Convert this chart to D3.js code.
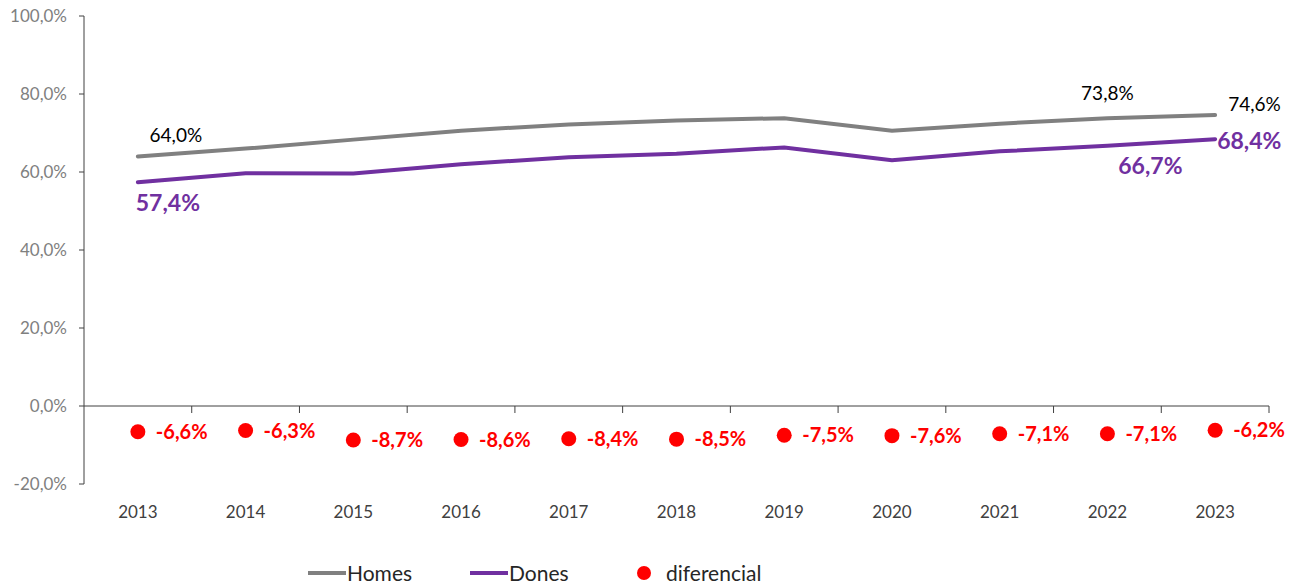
<!DOCTYPE html>
<html lang="ca">
<head>
<meta charset="UTF-8">
<title>Homes / Dones</title>
<script src="https://cdn.jsdelivr.net/npm/d3@7"></script>
<style>
    body { margin: 0; background: #fff; }
    text { font-family: Lato, "Open Sans", sans-serif; }
    .ytick text { fill: #808080; font-size: 17px; }
    .xtick text { fill: #404040; font-size: 17px; }
</style>
</head>
<body>
<script>
    // dades
    const years = ['2013', '2014', '2015', '2016', '2017', '2018', '2019', '2020', '2021', '2022', '2023'];
    const homes = [64.0, 66.0, 68.3, 70.6, 72.2, 73.2, 73.8, 70.6, 72.4, 73.8, 74.6];
    const dones = [57.4, 59.7, 59.6, 62.0, 63.8, 64.7, 66.3, 63.0, 65.3, 66.7, 68.4];
    const diferencial = [-6.6, -6.3, -8.7, -8.6, -8.4, -8.5, -7.5, -7.6, -7.1, -7.1, -6.2];
    const yTicks = [-20, 0, 20, 40, 60, 80, 100];

    const width = 1296, height = 585;
    const fmt = v => v.toFixed(1).replace('.', ',') + '%';

    const svg = d3.select('body').append('svg').attr('width', width).attr('height', height);

    const x = d3.scaleBand().domain(years).range([84, 1269]);
    const y = d3.scaleLinear().domain([-20, 100]).range([484, 16]);
    const cx = d => x(d) + x.bandwidth() / 2;

    // eix Y
    svg.append('line').attr('x1', 84).attr('x2', 84).attr('y1', y(100)).attr('y2', y(-20))
        .attr('stroke', '#404040').attr('stroke-width', 1);
    const yt = svg.selectAll('g.ytick').data(yTicks).enter().append('g').attr('class', 'ytick');
    yt.append('line').attr('x1', 79).attr('x2', 84).attr('y1', d => y(d)).attr('y2', d => y(d))
        .attr('stroke', '#404040');
    yt.append('text').attr('x', 67).attr('y', d => y(d) + 6).attr('text-anchor', 'end').text(d => fmt(d));

    // eix X sobre el 0
    svg.append('line').attr('x1', 84).attr('x2', 1269).attr('y1', y(0)).attr('y2', y(0))
        .attr('stroke', '#404040');
    const bounds = years.map(d => x(d) + x.bandwidth());
    svg.selectAll('line.xt').data(bounds).enter().append('line').attr('class', 'xt')
        .attr('x1', d => d).attr('x2', d => d).attr('y1', y(0)).attr('y2', y(0) + 7)
        .attr('stroke', '#404040');
    svg.selectAll('g.xtick').data(years).enter().append('g').attr('class', 'xtick')
        .append('text').attr('x', d => cx(d)).attr('y', 518).attr('text-anchor', 'middle').text(d => d);

    // línies
    const line = d3.line().x((d, i) => cx(years[i])).y(d => y(d));
    svg.append('path').datum(homes).attr('d', line).attr('fill', 'none')
        .attr('stroke', '#808080').attr('stroke-width', 4).attr('stroke-linecap', 'round');
    svg.append('path').datum(dones).attr('d', line).attr('fill', 'none')
        .attr('stroke', '#7030A0').attr('stroke-width', 4).attr('stroke-linecap', 'round');

    // etiquetes homes (2013, 2022, 2023)
    const hLab = [[0, 38, -14, 'middle'], [9, 0, -18, 'middle'], [10, 13, -4, 'start']];
    hLab.forEach(([i, dx, dy, anc]) => {
        svg.append('text').attr('x', cx(years[i]) + dx).attr('y', y(homes[i]) + dy)
            .attr('text-anchor', anc).attr('fill', '#000').attr('font-size', 19).text(fmt(homes[i]));
    });
    // etiquetes dones
    const dLab = [[0, 30, 29, 'middle'], [9, 43, 28, 'middle'], [10, 2, 10, 'start']];
    dLab.forEach(([i, dx, dy, anc]) => {
        svg.append('text').attr('x', cx(years[i]) + dx).attr('y', y(dones[i]) + dy)
            .attr('text-anchor', anc).attr('fill', '#7030A0').attr('font-size', 23)
            .attr('font-weight', 'bold').text(fmt(dones[i]));
    });

    // diferencial
    svg.selectAll('circle.dif').data(diferencial).enter().append('circle').attr('class', 'dif')
        .attr('cx', (d, i) => cx(years[i])).attr('cy', d => y(d)).attr('r', 7.5).attr('fill', '#FF0000');
    svg.selectAll('text.dif').data(diferencial).enter().append('text').attr('class', 'dif')
        .attr('x', (d, i) => cx(years[i]) + 18).attr('y', d => y(d) + 7)
        .attr('fill', '#FF0000').attr('font-size', 20).attr('font-weight', 'bold').text(d => fmt(d));

    // llegenda
    const lg = svg.append('g');
    lg.append('line').attr('x1', 308).attr('x2', 346).attr('y1', 573).attr('y2', 573)
        .attr('stroke', '#808080').attr('stroke-width', 4);
    lg.append('text').attr('x', 347).attr('y', 581).attr('font-size', 21).attr('fill', '#262626').text('Homes');
    lg.append('line').attr('x1', 470).attr('x2', 508).attr('y1', 573).attr('y2', 573)
        .attr('stroke', '#7030A0').attr('stroke-width', 4);
    lg.append('text').attr('x', 509).attr('y', 581).attr('font-size', 21).attr('fill', '#262626').text('Dones');
    lg.append('circle').attr('cx', 644).attr('cy', 573).attr('r', 7).attr('fill', '#FF0000');
    lg.append('text').attr('x', 666).attr('y', 581).attr('font-size', 21).attr('fill', '#262626').text('diferencial');
</script>
</body>
</html>
